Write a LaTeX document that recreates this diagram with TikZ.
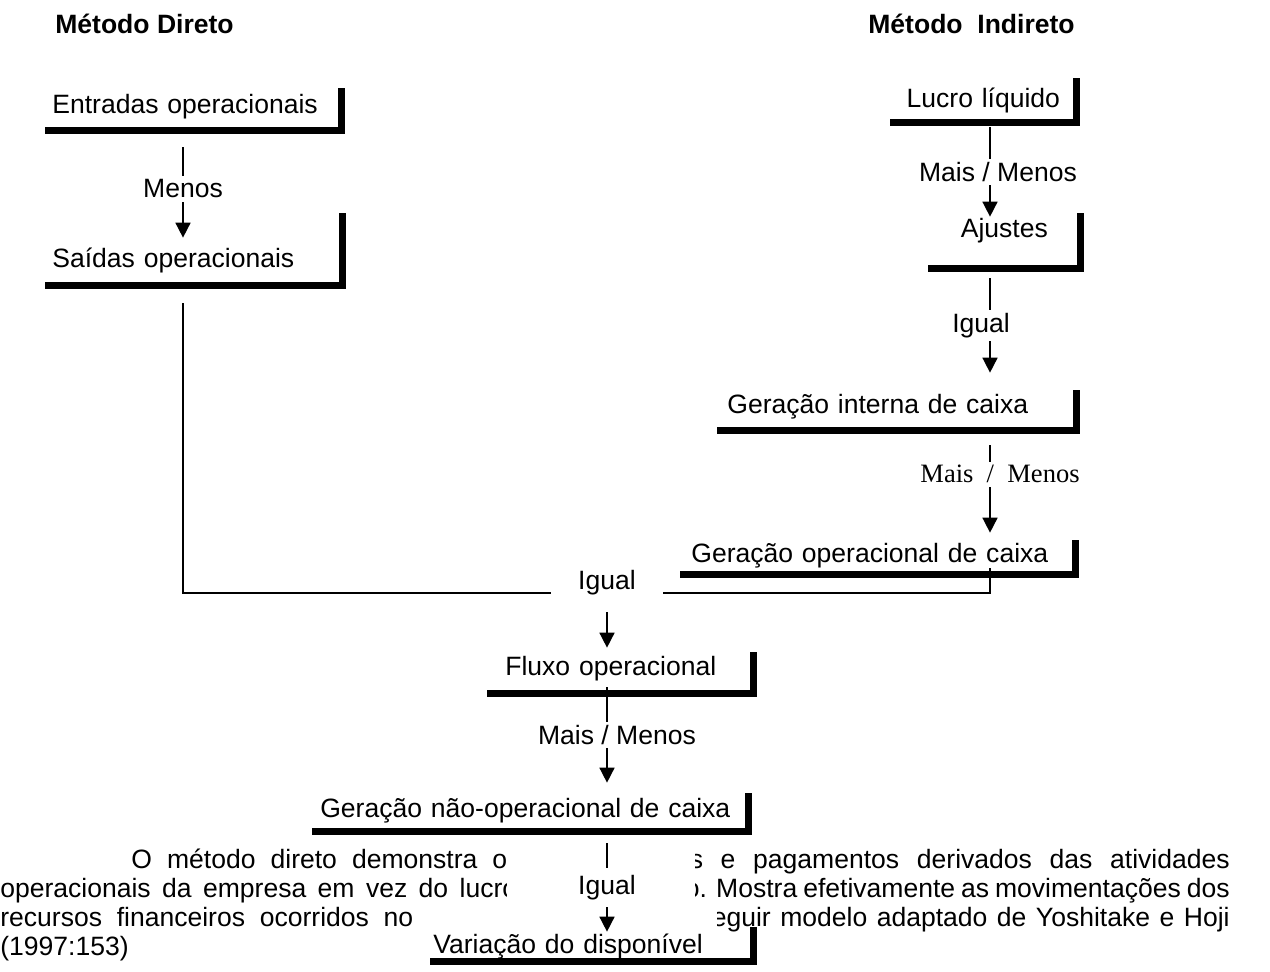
\documentclass[tikz,border=0pt]{standalone}
\usepackage{fontspec}
\setmainfont{Liberation Sans}
\newfontfamily\serifa{Liberation Serif}
\usetikzlibrary{positioning, arrows.meta}
\newcommand\rotfont{\fontsize{15.1pt}{18pt}\selectfont}
\tikzset{
  caixa/.style={inner ysep=0pt, inner xsep=0pt, font=\rotfont,
                align=left, anchor=base west},
  sombra/.style={line width=3.8pt, line join=miter},
  rotulo/.style={fill=white, inner sep=2pt, font=\rotfont},
  rotuloS/.style={fill=white, inner sep=2pt, font=\serifa\rotfont},
  titulo/.style={inner sep=0pt, font=\bfseries\rotfont, anchor=base west},
  texto/.style={inner sep=0pt, font=\rotfont},
  seta/.style={-{Triangle[width=0.3cm,length=0.3cm]}, line width=0.9pt},
  fio/.style={line width=0.9pt},
}

\begin{document}
\begin{tikzpicture}[x=0.02cm, y=-0.02cm]
\useasboundingbox[fill=white] (0,0) rectangle (1270,971);

% titulos
\node[titulo] (metD) at (55,33) {Método Direto};
\node[titulo] (metI) at (868,33) {Método\ \ Indireto};

% paragrafo por tras das caixas
\node[texto, anchor=base west] (l1a) at (131,868) {\makebox[7.52cm][s]{O método direto demonstra o}};
\node[texto, anchor=base east] (l1b) at (1230,868) {\makebox[10.8cm][s]{s e pagamentos derivados das atividades}};
\node[texto, anchor=base west] (l2a) at (0,897) {\makebox[10.34cm][s]{operacionais da empresa em vez do lucro}};
\node[texto, anchor=base east] (l2b) at (1230,897) {\makebox[10.9cm][s]{o. Mostra efetivamente as movimentações dos}};
\node[texto, anchor=base west] (l3a) at (0,926) {\makebox[8.26cm][s]{recursos financeiros ocorridos no}};
\node[texto, anchor=base east] (l3b) at (1230,926) {\makebox[10.36cm][s]{eguir modelo adaptado de Yoshitake e Hoji}};
\node[texto, anchor=base west] (l4) at (0,955) {(1997:153)};
\fill[white] (507,843) rectangle (695,905);
\fill[white] (420,905) rectangle (717,931);

% caixas
\node[caixa, text width=5.64cm, inner xsep=0.14cm, text height=0.5cm, text depth=0.34cm] (ent) at (45,113) {Entradas operacionais};
\node[caixa, text width=5.66cm, inner xsep=0.14cm, text height=1.08cm, text depth=0.36cm] (sai) at (45,267) {Saídas operacionais};
\node[caixa, text width=3.72cm, align=center, text height=0.58cm, text depth=0.3cm] (lucro) at (890,107) {Lucro líquido};
\node[caixa, text width=3.04cm, align=center, text height=0.48cm, text depth=0.62cm] (ajustes) at (928,237) {Ajustes};
\node[caixa, text width=6.78cm, inner xsep=0.2cm, text height=0.46cm, text depth=0.34cm] (interna) at (717,413) {Geração interna de caixa};
\node[caixa, text width=7.46cm, inner xsep=0.22cm, text height=0.44cm, text depth=0.24cm] (operacional) at (680,562) {Geração operacional de caixa};
\node[caixa, text width=4.6cm, inner xsep=0.36cm, text height=0.46cm, text depth=0.36cm] (fluxo) at (487,675) {Fluxo operacional};
\node[caixa, text width=8.4cm, inner xsep=0.16cm, text height=0.48cm, text depth=0.28cm] (naoop) at (312,817) {Geração não-operacional de caixa};
\node[caixa, text width=6.34cm, inner xsep=0.06cm, text height=0.52cm, text depth=0.16cm] (variacao) at (430,953) {Variação do disponível};
\foreach \n in {ent,sai,lucro,ajustes,interna,operacional,fluxo,naoop,variacao}
  \draw[sombra] (\n.south west) -- (\n.south east) -- (\n.north east);

% eixos verticais
\coordinate (eixoE) at (183,0);
\coordinate (eixoD) at (990,0);
\coordinate (eixoC) at (607,0);

% ligacoes
\draw[seta] ([yshift=-0.34cm]ent.south -| eixoE) -- node[rotulo, pos=0.46]{Menos} ([yshift=-0.5cm]sai.north -| eixoE);
\draw[seta] ([yshift=-0.1cm]lucro.south -| eixoD) -- node[rotulo, xshift=0.16cm]{Mais / Menos} ([yshift=-0.08cm]ajustes.north -| eixoD);
\draw[seta] ([yshift=-0.2cm]ajustes.south -| eixoD) -- node[rotulo, xshift=-0.18cm]{Igual} ([yshift=0.34cm]interna.north -| eixoD);
\draw[seta] ([yshift=-0.3cm]interna.south -| eixoD) -- node[rotuloS, pos=0.33, xshift=0.2cm]{Mais\ \ /\ \ Menos} ([yshift=0.14cm]operacional.north -| eixoD);

\node[rotulo, minimum width=2.24cm, anchor=base] (igual1) at (607,589) {Igual};
\draw[fio] ([yshift=-0.36cm]sai.south -| eixoE) |- ([yshift=-0.08cm]igual1.base west);
\draw[fio] ([yshift=-0.08cm]igual1.base east) -| ([yshift=0.12cm]operacional.south -| eixoD);
\draw[seta] ([yshift=-0.46cm]igual1.base) -- ([yshift=0.08cm]fluxo.north -| igual1);

\draw[seta] ([yshift=0.12cm]fluxo.south -| eixoC) -- node[rotulo, xshift=0.2cm]{Mais / Menos} ([yshift=0.2cm]naoop.north -| eixoC);
\draw[seta] ([yshift=-0.24cm]naoop.south -| eixoC) -- node[rotulo, inner ysep=4pt]{Igual} ([yshift=-0.1cm]variacao.north -| eixoC);
\end{tikzpicture}
\end{document}
